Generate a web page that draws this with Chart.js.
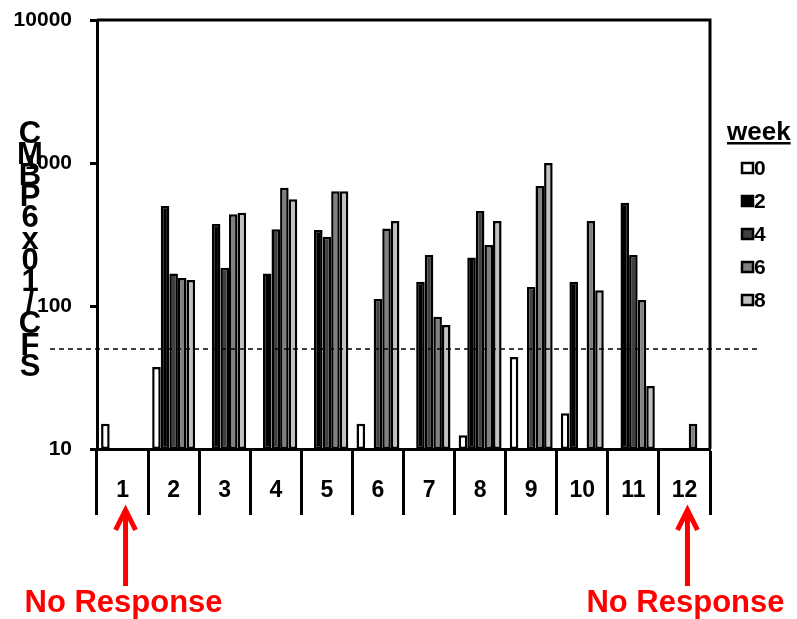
<!DOCTYPE html>
<html>
<head>
<meta charset="utf-8">
<title>Response by week</title>
<script src="https://cdn.jsdelivr.net/npm/chart.js@4/dist/chart.umd.min.js"></script>
<style>
  html, body { margin: 0; padding: 0; background: #fff; }
  #wrap { position: relative; width: 797px; height: 619px; }
</style>
</head>
<body>
<div id="wrap">
  <canvas id="my-chart" width="797" height="619"></canvas>
</div>
<script>
'use strict';

// *** DATA ***

let patients = ['1', '2', '3', '4', '5', '6', '7', '8', '9', '10', '11', '12'];
let weekNames = ['0', '2', '4', '6', '8'];

let week0 = [15, 37.5, null, null, null, 15, null, 12.5, 44, 17.8, null, null];
let week2 = [null, 500, 374, 169, 340, null, 148, 218, null, 148, 528, null];
let week4 = [null, 169, 185, 344, 305, 112, 227, 462, 136, null, 227, null];
let week6 = [null, 157, 438, 672, 634, 349, 84, 267, 690, 393, 110, 15];
let week8 = [null, 152, 449, 557, 634, 393, 73.6, 393, 1000, 129, 27.6, null];

let yTicks = [10, 100, 1000, 10000];
let cutoff = 50;
let noResponse = ['1', '12'];

let yTitle = ['C', 'M', 'B', 'P', '6', 'x', '0', '1', '/', 'C', 'F', 'S'];

let weekColors = ['#ffffff', '#000000', '#404040', '#808080', '#c0c0c0'];

// *** HELPERS ***

let allWeeks = [week0, week2, week4, week6, week8];

function makeDataset(i) {
  return {
    label: weekNames[i],
    data: allWeeks[i],
    backgroundColor: weekColors[i],
    borderColor: '#000',
    borderWidth: 2.5,
    borderSkipped: false,
    categoryPercentage: 0.84,
    barPercentage: 1.0
  };
}

// frame on top and right of the plot
let framePlugin = {
  id: 'frame',
  afterDraw(chart) {
    let ctx = chart.ctx;
    let area = chart.chartArea;
    ctx.save();
    ctx.strokeStyle = '#000';
    ctx.lineWidth = 3;
    ctx.beginPath();
    ctx.moveTo(area.left, area.top);
    ctx.lineTo(area.right, area.top);
    ctx.lineTo(area.right, area.bottom);
    ctx.stroke();
    ctx.restore();
  }
};

// dashed cut-off line
let cutoffPlugin = {
  id: 'cutoff',
  afterDatasetsDraw(chart) {
    let ctx = chart.ctx;
    let y = chart.scales.y.getPixelForValue(cutoff);
    ctx.save();
    ctx.strokeStyle = '#000';
    ctx.lineWidth = 1.5;
    ctx.setLineDash([5, 4]);
    ctx.beginPath();
    ctx.moveTo(50, y);
    ctx.lineTo(757, y);
    ctx.stroke();
    ctx.restore();
  }
};

// legend with the "week" heading
let weekLegend = {
  id: 'weekLegend',
  afterDraw(chart) {
    let ctx = chart.ctx;
    ctx.save();
    ctx.fillStyle = '#000';
    ctx.font = 'bold 26px Arial, "Liberation Sans", sans-serif';
    ctx.textAlign = 'left';
    ctx.textBaseline = 'alphabetic';
    ctx.fillText('week', 727, 140);
    let w = ctx.measureText('week').width;
    ctx.fillRect(727, 142, w, 2.5);

    ctx.font = 'bold 21px Arial, "Liberation Sans", sans-serif';
    ctx.textBaseline = 'middle';
    chart.data.datasets.forEach(function (ds, i) {
      let y = 168 + i * 33;
      ctx.fillStyle = ds.backgroundColor;
      ctx.fillRect(742, y - 5, 11, 10);
      ctx.strokeStyle = '#000';
      ctx.lineWidth = 2.5;
      ctx.strokeRect(742, y - 5, 11, 10);
      ctx.fillStyle = '#000';
      ctx.fillText(ds.label, 754, y + 1);
    });
    ctx.restore();
  }
};

// stacked letters of the y title
let yTitlePlugin = {
  id: 'yTitle',
  afterDraw(chart) {
    let ctx = chart.ctx;
    ctx.save();
    ctx.fillStyle = '#000';
    ctx.font = 'bold 31px Arial, "Liberation Sans", sans-serif';
    ctx.textAlign = 'center';
    ctx.textBaseline = 'middle';
    for (let i = 0; i < yTitle.length; i++) {
      ctx.fillText(yTitle[i], 30, 134 + i * 21.2);
    }
    ctx.restore();
  }
};

// red arrows under the non-responders
let arrowPlugin = {
  id: 'arrows',
  afterDraw(chart) {
    let ctx = chart.ctx;
    let xScale = chart.scales.x;
    ctx.save();
    ctx.strokeStyle = '#ff0000';
    ctx.fillStyle = '#ff0000';
    ctx.lineWidth = 5;
    ctx.lineCap = 'butt';
    ctx.lineJoin = 'miter';
    ctx.font = 'bold 31px Arial, "Liberation Sans", sans-serif';
    ctx.textAlign = 'center';
    ctx.textBaseline = 'alphabetic';
    noResponse.forEach(function (p) {
      let x = xScale.getPixelForValue(patients.indexOf(p)) + 3;
      ctx.beginPath();
      ctx.moveTo(x, 586);
      ctx.lineTo(x, 510);
      ctx.stroke();
      ctx.beginPath();
      ctx.moveTo(x - 10, 530);
      ctx.lineTo(x, 510);
      ctx.lineTo(x + 10, 530);
      ctx.stroke();
      ctx.fillText('No Response', x - 2, 612);
    });
    ctx.restore();
  }
};

// *** CHART ***

let canvasElem = document.getElementById('my-chart');

let myObj = {
  type: 'bar',
  data: {
    labels: patients,
    datasets: [0, 1, 2, 3, 4].map(makeDataset)
  },
  options: {
    responsive: false,
    animation: false,
    layout: {
      padding: { top: 20, right: 87, left: 0, bottom: 0 }
    },
    plugins: {
      legend: { display: false },
      tooltip: { enabled: false }
    },
    scales: {
      x: {
        afterFit(scale) { scale.height = 170; },
        grid: {
          offset: true,
          drawOnChartArea: false,
          drawTicks: true,
          tickLength: 66,
          tickWidth: 3,
          tickColor: '#000'
        },
        border: { color: '#000', width: 3 },
        ticks: {
          color: '#000',
          padding: -38,
          font: { family: 'Arial, "Liberation Sans", sans-serif', size: 23, weight: 'bold' }
        }
      },
      y: {
        type: 'logarithmic',
        min: 10,
        max: 10000,
        afterFit(scale) {
          scale.width = 97;
          scale.paddingTop = 0;
          scale.paddingBottom = 0;
        },
        afterBuildTicks(scale) {
          scale.ticks = yTicks.map(function (v) { return { value: v }; });
        },
        grid: {
          drawOnChartArea: false,
          drawTicks: true,
          tickLength: 7,
          tickWidth: 3,
          tickColor: '#000'
        },
        border: { color: '#000', width: 3 },
        ticks: {
          color: '#000',
          padding: 18,
          font: { family: 'Arial, "Liberation Sans", sans-serif', size: 21, weight: 'bold' },
          callback: function (value) { return String(value); }
        }
      }
    }
  },
  plugins: [framePlugin, cutoffPlugin, weekLegend, yTitlePlugin, arrowPlugin]
};

new Chart(canvasElem, myObj);
</script>
</body>
</html>
